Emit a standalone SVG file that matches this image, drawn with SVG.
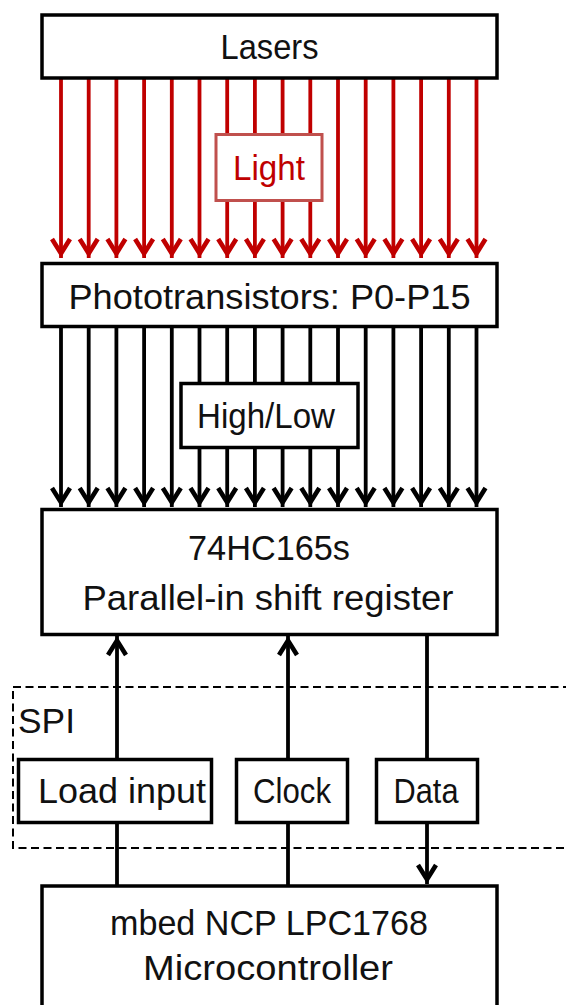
<svg xmlns="http://www.w3.org/2000/svg" width="566" height="1005" viewBox="0 0 566 1005">
<defs>
<style>
.box{fill:#fff;stroke:#000;stroke-width:3.5}
.t{font-family:"Liberation Sans",Arial,sans-serif;font-size:35px;fill:#111;text-anchor:middle}
.red{stroke:#c00000;stroke-width:3.8;fill:none}
.blk{stroke:#000;stroke-width:3.8;fill:none}
</style>
<marker id="ar" markerUnits="userSpaceOnUse" markerWidth="30" markerHeight="30" refX="0" refY="0" orient="auto" overflow="visible">
<path d="M-19,-9 L-4.5,0 L-19,9" fill="none" stroke="#c00000" stroke-width="4.6" stroke-linejoin="miter" stroke-miterlimit="10"/>
</marker>
<marker id="ab" markerUnits="userSpaceOnUse" markerWidth="30" markerHeight="30" refX="0" refY="0" orient="auto" overflow="visible">
<path d="M-19,-9 L-4.5,0 L-19,9" fill="none" stroke="#000" stroke-width="4.6" stroke-linejoin="miter" stroke-miterlimit="10"/>
</marker>
</defs>
<rect width="566" height="1005" fill="#fff"/>

<g id="connectors">
<g id="light-arrows" class="red">
<path d="M61,79V258" marker-end="url(#ar)"/>
<path d="M88.7,79V258" marker-end="url(#ar)"/>
<path d="M116.4,79V258" marker-end="url(#ar)"/>
<path d="M144.1,79V258" marker-end="url(#ar)"/>
<path d="M171.8,79V258" marker-end="url(#ar)"/>
<path d="M199.5,79V258" marker-end="url(#ar)"/>
<path d="M227.2,79V258" marker-end="url(#ar)"/>
<path d="M254.9,79V258" marker-end="url(#ar)"/>
<path d="M282.6,79V258" marker-end="url(#ar)"/>
<path d="M310.3,79V258" marker-end="url(#ar)"/>
<path d="M338,79V258" marker-end="url(#ar)"/>
<path d="M365.7,79V258" marker-end="url(#ar)"/>
<path d="M393.4,79V258" marker-end="url(#ar)"/>
<path d="M421.1,79V258" marker-end="url(#ar)"/>
<path d="M448.8,79V258" marker-end="url(#ar)"/>
<path d="M476.5,79V258" marker-end="url(#ar)"/>
</g>
<g id="signal-arrows" class="blk">
<path d="M61,328V507" marker-end="url(#ab)"/>
<path d="M88.7,328V507" marker-end="url(#ab)"/>
<path d="M116.4,328V507" marker-end="url(#ab)"/>
<path d="M144.1,328V507" marker-end="url(#ab)"/>
<path d="M171.8,328V507" marker-end="url(#ab)"/>
<path d="M199.5,328V507" marker-end="url(#ab)"/>
<path d="M227.2,328V507" marker-end="url(#ab)"/>
<path d="M254.9,328V507" marker-end="url(#ab)"/>
<path d="M282.6,328V507" marker-end="url(#ab)"/>
<path d="M310.3,328V507" marker-end="url(#ab)"/>
<path d="M338,328V507" marker-end="url(#ab)"/>
<path d="M365.7,328V507" marker-end="url(#ab)"/>
<path d="M393.4,328V507" marker-end="url(#ab)"/>
<path d="M421.1,328V507" marker-end="url(#ab)"/>
<path d="M448.8,328V507" marker-end="url(#ab)"/>
<path d="M476.5,328V507" marker-end="url(#ab)"/>
</g>
<g id="spi-lines" class="blk">
<path d="M117,886V636" marker-end="url(#ab)"/>
<path d="M288,886V636" marker-end="url(#ab)"/>
<path d="M427,636V884" marker-end="url(#ab)"/>
</g>
</g>

<g id="spi">
<rect x="13" y="687" width="570" height="161" fill="none" stroke="#000" stroke-width="2" stroke-dasharray="8,4.5"/>
<text class="t" x="18" y="733" style="text-anchor:start" textLength="57" lengthAdjust="spacingAndGlyphs">SPI</text>
</g>

<g id="lasers">
<rect class="box" x="42" y="15" width="455" height="63"/>
<text class="t" x="269.5" y="59" textLength="98" lengthAdjust="spacingAndGlyphs">Lasers</text>
</g>

<g id="light">
<rect x="216" y="134.5" width="106" height="66" fill="#fff" stroke="#c0504d" stroke-width="3"/>
<text class="t" x="269" y="180" style="fill:#c00000" textLength="72" lengthAdjust="spacingAndGlyphs">Light</text>
</g>

<g id="phototransistors">
<rect class="box" x="42" y="263.5" width="455" height="63"/>
<text class="t" x="269.5" y="309" textLength="402" lengthAdjust="spacingAndGlyphs">Phototransistors: P0-P15</text>
</g>

<g id="highlow">
<rect class="box" x="181" y="383.5" width="177" height="64"/>
<text class="t" x="266" y="428" textLength="138" lengthAdjust="spacingAndGlyphs">High/Low</text>
</g>

<g id="shiftreg">
<rect class="box" x="42" y="509.5" width="455" height="125"/>
<text class="t" x="269" y="560" textLength="162" lengthAdjust="spacingAndGlyphs">74HC165s</text>
<text class="t" x="268" y="610" textLength="371" lengthAdjust="spacingAndGlyphs">Parallel-in shift register</text>
</g>

<g id="loadinput">
<rect class="box" x="18.5" y="759.5" width="193" height="63"/>
<text class="t" x="122" y="803" textLength="168" lengthAdjust="spacingAndGlyphs">Load input</text>
</g>

<g id="clock">
<rect class="box" x="236.5" y="759.5" width="111" height="63"/>
<text class="t" x="292" y="803" textLength="78" lengthAdjust="spacingAndGlyphs">Clock</text>
</g>

<g id="data">
<rect class="box" x="376.5" y="759.5" width="101" height="63"/>
<text class="t" x="426" y="803" textLength="65" lengthAdjust="spacingAndGlyphs">Data</text>
</g>

<g id="mbed">
<rect class="box" x="42" y="886" width="455" height="130"/>
<text class="t" x="269" y="935" textLength="318" lengthAdjust="spacingAndGlyphs">mbed NCP LPC1768</text>
<text class="t" x="268" y="980" textLength="250" lengthAdjust="spacingAndGlyphs">Microcontroller</text>
</g>
</svg>
